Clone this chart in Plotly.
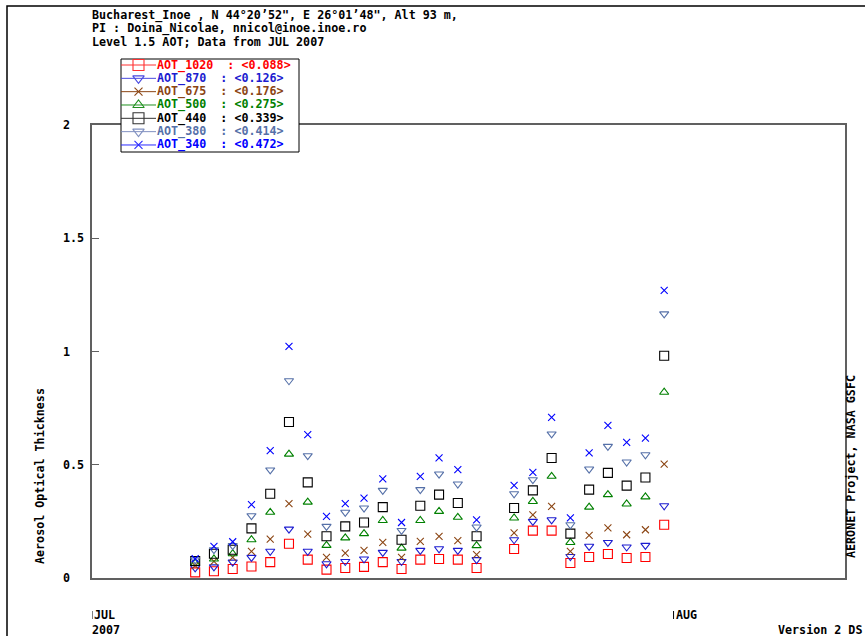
import plotly.graph_objects as go

# ---------------- data ----------------
dates = ["2007-07-%02d 12:00" % d for d in list(range(6, 22)) + list(range(23, 32))]

aot_1020 = [0.025, 0.030, 0.040, 0.051, 0.070, 0.151, 0.081, 0.037, 0.044, 0.049, 0.070, 0.040, 0.081,
            0.084, 0.081, 0.044, 0.128, 0.209, 0.209, 0.066, 0.093, 0.106, 0.088, 0.093, 0.235]
aot_870 = [0.045, 0.049, 0.070, 0.091, 0.118, 0.216, 0.118, 0.063, 0.073, 0.084, 0.113, 0.073, 0.122,
           0.129, 0.122, 0.081, 0.169, 0.250, 0.257, 0.095, 0.140, 0.157, 0.137, 0.144, 0.319]
aot_675 = [0.055, 0.073, 0.091, 0.118, 0.172, 0.328, 0.194, 0.091, 0.110, 0.122, 0.157, 0.091, 0.162,
           0.184, 0.165, 0.103, 0.199, 0.279, 0.316, 0.118, 0.188, 0.221, 0.191, 0.213, 0.503]
aot_500 = [0.065, 0.084, 0.107, 0.169, 0.290, 0.547, 0.335, 0.144, 0.177, 0.196, 0.254, 0.132, 0.254,
           0.294, 0.268, 0.143, 0.265, 0.338, 0.449, 0.157, 0.313, 0.368, 0.327, 0.358, 0.820]
aot_440 = [0.075, 0.107, 0.125, 0.219, 0.372, 0.689, 0.422, 0.184, 0.228, 0.245, 0.313, 0.169, 0.319,
           0.368, 0.331, 0.184, 0.309, 0.387, 0.530, 0.196, 0.390, 0.464, 0.408, 0.444, 0.981]
aot_380 = [0.080, 0.125, 0.143, 0.275, 0.477, 0.871, 0.540, 0.228, 0.290, 0.309, 0.387, 0.210, 0.390,
           0.459, 0.415, 0.225, 0.372, 0.434, 0.636, 0.235, 0.481, 0.581, 0.512, 0.544, 1.166]
aot_340 = [0.085, 0.140, 0.160, 0.324, 0.562, 1.023, 0.633, 0.272, 0.328, 0.353, 0.438, 0.245, 0.449,
           0.530, 0.478, 0.257, 0.409, 0.466, 0.709, 0.265, 0.552, 0.674, 0.599, 0.618, 1.270]

names = ["AOT_1020", "AOT_870", "AOT_675", "AOT_500", "AOT_440", "AOT_380", "AOT_340"]
means = ["0.088", "0.126", "0.176", "0.275", "0.339", "0.414", "0.472"]
series = [aot_1020, aot_870, aot_675, aot_500, aot_440, aot_380, aot_340]

y_ticks = [0, 0.5, 1, 1.5, 2]
y_tick_labels = ["0", "0.5", "1", "1.5", "2"]
month_ticks = ["2007-07-01", "2007-08-01"]
month_labels = ["JUL", "AUG"]

title_lines = ["Bucharest_Inoe , N 44°20’52\", E 26°01’48\", Alt 93 m,",
               "PI : Doina_Nicolae, nnicol@inoe.inoe.ro",
               "Level 1.5 AOT; Data from JUL 2007"]

# ---------------- style ----------------
colors = ["#ff0000", "#1c1cd0", "#8b4513", "#008000", "#000000", "#5570a8", "#0000ff"]
line_cols = ["#ff3030", "#4a4ae0", "#8b4513", "#209020", "#333333", "#8090c0", "#2a2aff"]
symbols = ["square-open", "triangle-down-open", "x-thin-open", "triangle-up-open",
           "square-open", "triangle-down-open", "x-thin-open"]
sizes = [9, 8, 7, 8, 9, 8, 7]
leg_sizes = [11, 10, 8, 10, 11, 10, 8]

W, H = 865, 636
PL, PR, PT, PB = 92, 845, 125, 578
FONT = "DejaVu Sans Mono"
FS = 11.7
NB = "\u00a0"


def px(x):
    return x / W


def py(y):
    return 1 - y / H


fig = go.Figure()

# data marks
for name, vals, col, sym, sz in zip(names, series, colors, symbols, sizes):
    fig.add_trace(go.Scatter(
        x=dates, y=vals, mode="markers", name=name, cliponaxis=False,
        marker=dict(symbol=sym, size=sz, color=col, line=dict(color=col, width=1.1)),
        showlegend=False, hoverinfo="x+y+name"))

# legend (drawn on a pixel overlay subplot)
LX0, LX1, LY0, LY1 = 121, 299, 59, 152
fig.add_trace(go.Scatter(x=[LX0, LX1, LX1, LX0, LX0], y=[LY0, LY0, LY1, LY1, LY0], mode="lines",
                         fill="toself", fillcolor="white", line=dict(color="black", width=1),
                         xaxis="x2", yaxis="y2", showlegend=False, hoverinfo="skip"))
annotations = []
for i, (name, m, col, lc, sym, sz) in enumerate(zip(names, means, colors, line_cols, symbols, leg_sizes)):
    ry = 65 + i * 13.33
    fig.add_trace(go.Scatter(x=[LX0, 156], y=[ry, ry], mode="lines", line=dict(color=lc, width=1),
                             xaxis="x2", yaxis="y2", showlegend=False, hoverinfo="skip"))
    fig.add_trace(go.Scatter(x=[138.5], y=[ry], mode="markers", cliponaxis=False,
                             marker=dict(symbol=sym, size=sz, color=lc, line=dict(color=lc, width=1.1)),
                             xaxis="x2", yaxis="y2", showlegend=False, hoverinfo="skip"))
    label = name + NB * 2 + ":" + NB + "&lt;" + m + "&gt;"
    annotations.append(dict(x=px(155), y=py(ry), xref="paper", yref="paper", text=label,
                            showarrow=False, xanchor="left", yanchor="middle",
                            font=dict(family=FONT, size=FS, color=col, weight="bold")))

# header
for k, line in enumerate(title_lines):
    annotations.append(dict(x=px(90), y=py(15 + k * 13.5), xref="paper", yref="paper", text=line,
                            showarrow=False, xanchor="left", yanchor="middle",
                            font=dict(family=FONT, size=FS, color="black", weight="bold")))

# y tick labels
for v, t in zip(y_ticks, y_tick_labels):
    annotations.append(dict(x=px(61), y=v, xref="paper", yref="y", text=t, showarrow=False,
                            xanchor="left", yanchor="middle",
                            font=dict(family=FONT, size=FS, color="black", weight="bold")))

# month labels
for d, t in zip(month_ticks, month_labels):
    annotations.append(dict(x=d, y=py(615), xref="x", yref="paper", text=t, showarrow=False,
                            xanchor="left", yanchor="middle", xshift=0,
                            font=dict(family=FONT, size=FS, color="black", weight="bold")))
annotations.append(dict(x=month_ticks[0], y=py(630), xref="x", yref="paper", text="2007",
                        showarrow=False, xanchor="left", yanchor="middle", xshift=-2,
                        font=dict(family=FONT, size=FS, color="black", weight="bold")))
annotations.append(dict(x=px(864), y=py(630), xref="paper", yref="paper", text="Version 2 DS",
                        showarrow=False, xanchor="right", yanchor="middle",
                        font=dict(family=FONT, size=FS, color="black", weight="bold")))

# axis title and credit
annotations.append(dict(x=px(40), y=py(476), xref="paper", yref="paper",
                        text="Aerosol Optical Thickness", textangle=-90, showarrow=False,
                        xanchor="center", yanchor="middle",
                        font=dict(family=FONT, size=FS, color="black", weight="bold")))
annotations.append(dict(x=px(851), y=py(467), xref="paper", yref="paper",
                        text="AERONET Project, NASA GSFC", textangle=-90, showarrow=False,
                        xanchor="center", yanchor="middle",
                        font=dict(family=FONT, size=FS, color="black", weight="bold")))

shapes = [
    # outer frame (extends beyond the visible window)
    dict(type="rect", xref="paper", yref="paper", x0=px(7), y0=py(6), x1=2, y1=-1,
         line=dict(color="black", width=1.5), layer="below"),
]
for d in month_ticks:
    shapes.append(dict(type="line", xref="x", yref="paper", x0=d, x1=d, y0=py(611), y1=py(619),
                       line=dict(color="black", width=1)))

fig.update_layout(
    width=W, height=H, autosize=False,
    margin=dict(l=0, r=0, t=0, b=0, pad=0),
    paper_bgcolor="white", plot_bgcolor="rgba(0,0,0,0)",
    showlegend=False,
    xaxis=dict(type="date", domain=[px(PL), px(PR)], range=["2007-07-01", "2007-08-10 03:20"],
               showticklabels=False, ticks="", showgrid=False, zeroline=False,
               showline=True, mirror=True, linecolor="#606060", linewidth=1.5, anchor="y"),
    yaxis=dict(domain=[py(PB), py(PT)], range=[0, 2], tickvals=y_ticks, ticks="inside", ticklen=7,
               tickcolor="#606060", tickwidth=1.2, showticklabels=False, showgrid=False,
               zeroline=False, showline=True, mirror=True, linecolor="#606060", linewidth=1.5,
               anchor="x"),
    xaxis2=dict(domain=[0, 1], range=[0, W], visible=False, anchor="y2", fixedrange=True),
    yaxis2=dict(domain=[0, 1], range=[H, 0], visible=False, anchor="x2", fixedrange=True),
    annotations=annotations,
    shapes=shapes,
)

fig.write_html("out.html", config={"displayModeBar": False},
               post_script="document.body.style.margin='0px';")
